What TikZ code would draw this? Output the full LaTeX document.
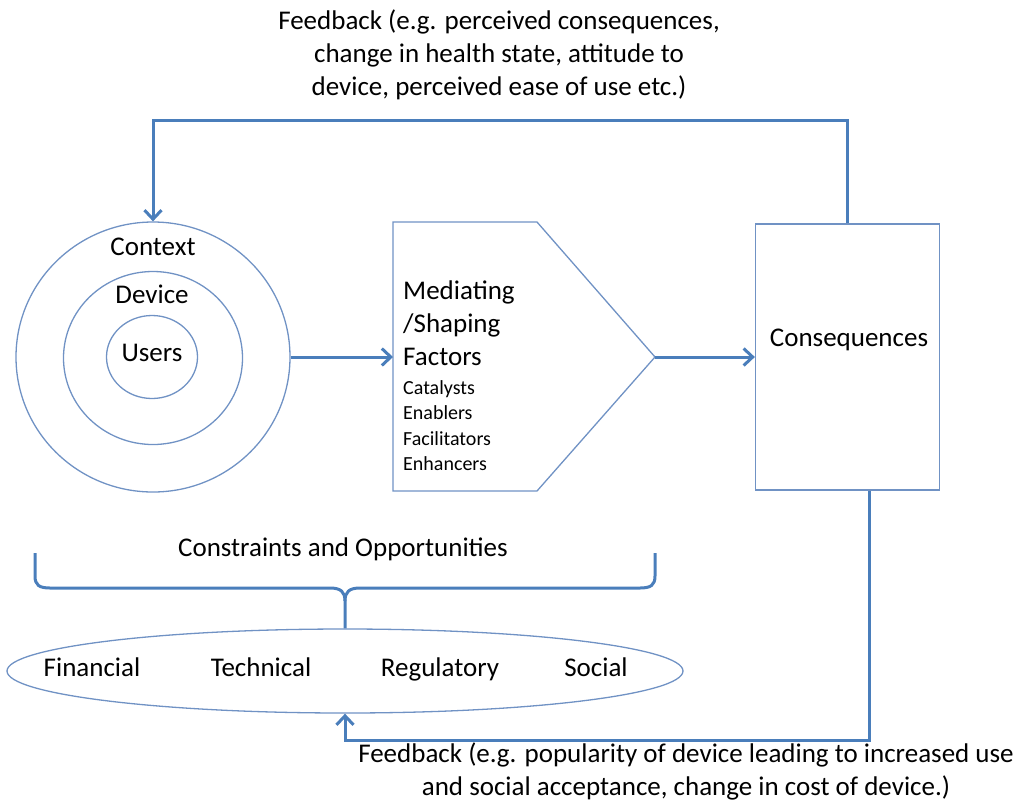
\documentclass[tikz,border=0pt]{standalone}
\usepackage{fontspec}
\setmainfont{Carlito}
\usepackage{tikz}
\usetikzlibrary{arrows.meta}
\usetikzlibrary{shapes.geometric}
\definecolor{fbblue}{RGB}{74,126,187}
\definecolor{edgeblue}{RGB}{112,146,196}
\tikzset{flow/.style={draw=fbblue, line width=3pt, -{Straight Barb[length=9pt,width=17pt]}}, bracket/.style={draw=fbblue, line width=3pt}}
\tikzset{outl/.style={draw=edgeblue, line width=1.3pt}, txt/.style={font=\fontsize{27}{33}\selectfont, inner sep=0pt}, word/.style={txt, text height=16pt, text depth=0pt}, smalltxt/.style={font=\fontsize{20}{25.5}\selectfont, inner sep=0pt, align=left}}

\begin{document}
\begin{tikzpicture}[x=1pt, y=-1pt]
	\useasboundingbox (0,0) rectangle (1028,807);
	\node[txt, align=center] (fbtop) at (499,55) {Feedback (e.g. perceived consequences,\\change in health state, attitude to\\device, perceived ease of use etc.)};
	% nested circles
	\node[outl, ellipse, minimum width=274pt, minimum height=270pt] (outer) at (153,357) {};
	\node[outl, ellipse, minimum width=179pt, minimum height=173pt] (middle) at (153,358) {};
	\node[outl, ellipse, minimum width=91pt, minimum height=83pt] (inner) at (152,357) {};
	\node[word] (context) at (153,247) {Context};
	\node[word] (device) at (152,295) {Device};
	\node[word] (users) at (152,353) {Users};
	% mediating factors
	\draw[outl] (393,222) -- (537,222) -- (655,357) coordinate (ptip) -- (537,491) -- (393,491) -- cycle;
	\coordinate (pin) at (393,357);
	\node[txt, anchor=west, align=left] (medtitle) at (403,323.5) {Mediating\\/Shaping\\Factors};
	\node[smalltxt, anchor=west] (medlist) at (403,425.5) {Catalysts\\Enablers\\Facilitators\\Enhancers};
	\node[outl, rectangle, minimum width=184pt, minimum height=266pt] (cons) at (847.5,357) {};
	\node[word] (constext) at (849,338) {Consequences};
	\draw[flow] (outer.east) -- (pin);
	\draw[flow] (ptip) -- (cons.west);
	\coordinate (topfb) at (847.5,120);
	\draw[flow] (cons.north) -- (topfb) -| (outer.north);
	% constraints
	\node[word] (constr) at (343,548) {Constraints and Opportunities};
	\node[outl, ellipse, minimum width=676pt, minimum height=84pt] (factors) at (345,671) {};
	\node[word] (financial) at (92,668) {Financial};
	\node[word] (technical) at (261,668) {Technical};
	\node[word] (regulatory) at (440,668) {Regulatory};
	\node[word] (social) at (596,668) {Social};
	\draw[bracket] (35,553) -- (35,576) .. controls (35,585) and (39,588) .. (50,588) -- (330,588) .. controls (341,588) and (345,592) .. (345,601) -- (factors.north);
	\draw[bracket] (655,553) -- (655,576) .. controls (655,585) and (651,588) .. (640,588) -- (360,588) .. controls (349,588) and (345,592) .. (345,601);
	\draw[flow] ([xshift=22pt]cons.south) -- ++(0,250) -| (factors.south);
	\node[txt, align=center] (fbbot) at (686,771) {Feedback (e.g. popularity of device leading to increased use\\and social acceptance, change in cost of device.)};
\end{tikzpicture}
\end{document}
